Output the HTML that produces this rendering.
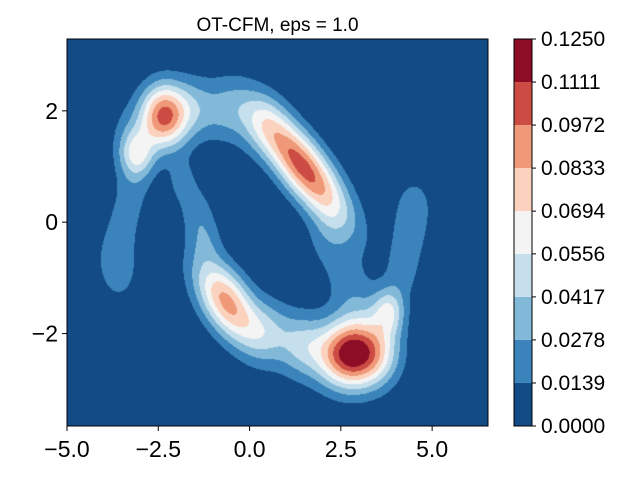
<!DOCTYPE html>
<html><head><meta charset="utf-8"><style>
body{margin:0;background:#fff;width:640px;height:480px;overflow:hidden;font-family:"Liberation Sans",sans-serif}
#wrap{position:relative;width:640px;height:480px}
canvas{position:absolute;left:67px;top:39px}
svg{position:absolute;left:0;top:0}
</style></head><body>
<div id="wrap">
<canvas id="c" width="421" height="387"></canvas>
<svg id="s" width="640" height="480"></svg>
</div>
<script>
const compX=[-2.35,-3.08,1.45,-0.62,2.8,3.81,-1.5,-0.6,0.3,-3.3,2.1,2.6,3.0,4.5,4.35,4.2,-3.7,-3.55,-3.45,-3.2,-1.85,-1.45,-1.2,0.5,1.4,3.6];
const compY=[1.91,1.22,1.0,-1.44,-2.37,-1.59,2.05,2.0,1.75,1.6,-0.3,-1.0,-1.5,0.3,-0.3,-0.9,-0.6,-1.0,0.0,0.6,0.75,0.2,-0.3,-1.95,-2.2,-2.3];
const compAmp=[0.1,0.05,0.105,0.088,0.125,0.05,0.028,0.026,0.022,0.014,0.016,0.014,0.014,0.02,0.017,0.017,0.014,0.012,0.012,0.014,0.017,0.018,0.018,0.032,0.036,0.02];
const compSMaj=[0.45,0.33,1.05,0.72,0.65,0.32,0.45,0.45,0.45,0.4,0.42,0.42,0.4,0.38,0.36,0.34,0.42,0.4,0.4,0.4,0.32,0.32,0.32,0.45,0.45,0.42];
const compSMin=[0.4,0.3,0.36,0.38,0.42,0.3,0.4,0.4,0.4,0.4,0.42,0.42,0.4,0.38,0.36,0.34,0.42,0.4,0.4,0.4,0.32,0.32,0.32,0.4,0.4,0.42];
const compAng=[0,0,-37.6,-38,0,0,0,0,0,0,0,0,0,0,0,0,0,0,0,0,0,0,0,0,0,0];
const levels=[0.0,0.0139,0.0278,0.0417,0.0556,0.0694,0.0833,0.0972,0.1111,0.1250];
const levelLabels=["0.0000","0.0139","0.0278","0.0417","0.0556","0.0694","0.0833","0.0972","0.1111","0.1250"];
const colors=["#134b87","#3a84bb","#82b9d8","#c6dfec","#f4f4f4","#fbd2bd","#ef9979","#cc4c44","#8e0d26"];
const xTicks=[-5,-2.5,0,2.5,5];const xTickLabels=["\u22125.0","\u22122.5","0.0","2.5","5.0"];
const yTicks=[2,0,-2];const yTickLabels=["2","0","\u22122"];
const X0=67,X1=488,Y0=39,Y1=426;
const xMin=-5.0,xMax=6.53,yMin=-3.66,yMax=3.29;
const sx=v=>X0+(v-xMin)/(xMax-xMin)*(X1-X0);
const sy=v=>Y1-(v-yMin)/(yMax-yMin)*(Y1-Y0);
function dens(x,y){let f=0;for(let i=0;i<compX.length;i++){const a=compAng[i]*Math.PI/180,c=Math.cos(a),s=Math.sin(a);const dx=x-compX[i],dy=y-compY[i];const u=(dx*c+dy*s)/compSMaj[i],w=(-dx*s+dy*c)/compSMin[i];f+=compAmp[i]*Math.exp(-0.5*(u*u+w*w));}return f;}
const cv=document.getElementById('c'),ctx=cv.getContext('2d');
const img=ctx.createImageData(421,387);
const rgb=colors.map(h=>[parseInt(h.substr(1,2),16),parseInt(h.substr(3,2),16),parseInt(h.substr(5,2),16)]);
for(let py=0;py<387;py++)for(let px=0;px<421;px++){
 const x=xMin+(px+0.5)/421*(xMax-xMin),y=yMax-(py+0.5)/387*(yMax-yMin);
 const f=dens(x,y);let k=0;while(k<colors.length-1&&f>levels[k+1])k++;
 const o=(py*421+px)*4;img.data[o]=rgb[k][0];img.data[o+1]=rgb[k][1];img.data[o+2]=rgb[k][2];img.data[o+3]=255;}
ctx.putImageData(img,0,0);
const svg=document.getElementById('s');const NS='http://www.w3.org/2000/svg';
function el(t,a,p){const e=document.createElementNS(NS,t);for(const k in a)e.setAttribute(k,a[k]);(p||svg).appendChild(e);return e;}
const frame=el('rect',{x:X0,y:Y0,width:X1-X0,height:Y1-Y0,fill:'none',stroke:'#000','stroke-width':1});

xTicks.forEach((v,i)=>{const X=sx(v);el('line',{x1:X,x2:X,y1:Y1,y2:Y1+5,stroke:'#000'});
 const t=el('text',{x:X,y:Y1+31,'font-size':23,'text-anchor':'middle'});t.textContent=xTickLabels[i];
 });
yTicks.forEach((v,i)=>{const Y=sy(v);el('line',{x1:X0-5,x2:X0,y1:Y,y2:Y,stroke:'#000'});
 const t=el('text',{x:X0-9,y:Y+8,'font-size':23,'text-anchor':'end'});t.textContent=yTickLabels[i];
 });
const title=el('text',{x:(X0+X1)/2,y:31,'font-size':19,'text-anchor':'middle'});title.textContent='OT-CFM, eps = 1.0';

const CX0=514,CX1=532;const cy=v=>Y1-(v-levels[0])/(levels[levels.length-1]-levels[0])*(Y1-Y0);
for(let k=0;k<colors.length;k++){const r=el('rect',{x:CX0,y:cy(levels[k+1]),width:CX1-CX0,height:cy(levels[k])-cy(levels[k+1]),fill:colors[k]});
 }
el('rect',{x:CX0,y:Y0,width:CX1-CX0,height:Y1-Y0,fill:'none',stroke:'#000'});
levels.forEach((v,i)=>{const Y=cy(v);el('line',{x1:CX1,x2:CX1+4,y1:Y,y2:Y,stroke:'#000'});
 const t=el('text',{x:CX1+9,y:Y+7,'font-size':21});t.textContent=levelLabels[i];
 });
</script></body></html>
